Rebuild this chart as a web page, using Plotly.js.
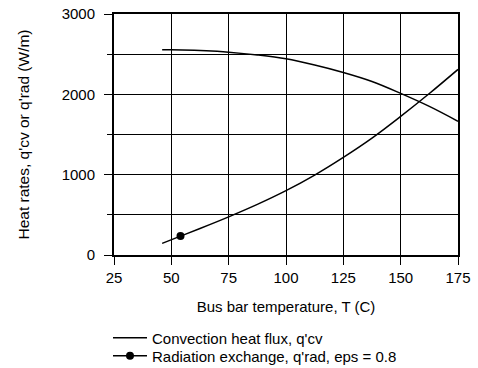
<!DOCTYPE html>
<html>
<head>
<meta charset="utf-8">
<script src="https://cdn.plot.ly/plotly-3.0.1.min.js"></script>
<style>html,body{margin:0;padding:0;background:#fff;}#chart{width:478px;height:368px;}</style>
</head>
<body>
<div id="chart"></div>
<script>
// Convection heat flux, q'cv (W/m) vs bus bar temperature T (C)
var convT = [46, 50, 60, 70, 75, 87.5, 100, 112.5, 125, 137.5, 150, 162.5, 175];
var convQ = [2555, 2555, 2548, 2535, 2525, 2490, 2442, 2365, 2272, 2160, 2012, 1850, 1665];
// Radiation exchange, q'rad (W/m), eps = 0.8
var radT = [46, 54, 62.5, 75, 87.5, 100, 112.5, 125, 137.5, 150, 162.5, 175];
var radQ = [145, 235, 330, 475, 630, 801, 995, 1215, 1455, 1725, 2010, 2310];
var markerIdx = 1;
var xTicks = [25, 50, 75, 100, 125, 150, 175];
var yTicks = [0, 1000, 2000, 3000];

var FONT = 'Liberation Sans, Arial, sans-serif';
var traces = [
  {x: convT, y: convQ, mode: 'lines', name: "Convection heat flux, q'cv",
   line: {color: '#000', width: 1.5, shape: 'spline', smoothing: 1}, legend: 'legend'},
  {x: radT, y: radQ, mode: 'lines', name: "Radiation exchange, q'rad, eps = 0.8",
   line: {color: '#000', width: 1.5, shape: 'spline', smoothing: 1}, showlegend: false, legendgroup: 'rad'},
  {x: [radT[markerIdx]], y: [radQ[markerIdx]], mode: 'lines+markers',
   name: "Radiation exchange, q'rad, eps = 0.8", legendgroup: 'rad',
   line: {color: '#000', width: 1.5}, marker: {color: '#000', size: 8}, legend: 'legend2'}
];
// plot area: x 114..458, y 14..255 (px)
function px2paperX(p) { return (p - 114) / 344; }
function px2paperY(p) { return (255 - p) / 241; }
var legBase = {xref: 'paper', yref: 'paper', x: px2paperX(108), xanchor: 'left', yanchor: 'middle',
  itemwidth: 34,
  bgcolor: 'rgba(0,0,0,0)', borderwidth: 0, font: {family: FONT, size: 15, color: '#000'}};
var layout = {
  width: 478, height: 368,
  margin: {l: 114, r: 20, t: 14, b: 113, autoexpand: false},
  paper_bgcolor: '#fff', plot_bgcolor: '#fff',
  font: {family: FONT, size: 15, color: '#000'},
  showlegend: true,
  legend: Object.assign({}, legBase, {y: px2paperY(338)}),
  legend2: Object.assign({}, legBase, {y: px2paperY(356)}),
  xaxis: {
    range: [25, 175], tickvals: xTicks, ticks: 'outside', ticklen: 8, tickwidth: 1, tickcolor: '#000',
    showline: true, linewidth: 2, linecolor: '#000', mirror: true,
    showgrid: true, gridcolor: '#000', gridwidth: 1, zeroline: false,
    tickfont: {family: FONT, size: 15, color: '#000'},
    title: {text: 'Bus bar temperature, T (C)', font: {family: FONT, size: 15, color: '#000'}, standoff: 16}
  },
  yaxis: {
    range: [0, 3000], tickvals: yTicks, ticks: 'outside', ticklen: 8, tickwidth: 1, tickcolor: '#000',
    ticklabelstandoff: 6,
    minor: {dtick: 500, ticks: 'outside', ticklen: 5, tickcolor: '#000', showgrid: true, gridcolor: '#000', gridwidth: 1},
    showline: true, linewidth: 2, linecolor: '#000', mirror: true,
    showgrid: true, gridcolor: '#000', gridwidth: 1, zeroline: false,
    tickfont: {family: FONT, size: 15, color: '#000'},
    title: {text: "Heat rates, q'cv or q'rad (W/m)", font: {family: FONT, size: 15.5, color: '#000'}, standoff: 28}
  }
};
Plotly.newPlot('chart', traces, layout, {displayModeBar: false, staticPlot: true});
</script>
</body>
</html>
